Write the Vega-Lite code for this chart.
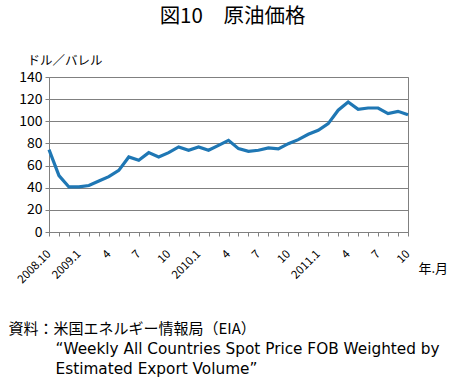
{
  "$schema": "https://vega.github.io/schema/vega-lite/v6.json",
  "width": 359,
  "height": 155,
  "autosize": "none",
  "padding": {"left": 49, "top": 77, "right": 47, "bottom": 150},
  "background": "white",
  "config": {
    "font": "Noto Sans CJK JP",
    "view": {"stroke": "#808080", "strokeWidth": 1},
    "axis": {"labelColor": "#000", "titleColor": "#000", "domainColor": "#808080", "tickColor": "#808080", "gridColor": "#808080", "titleFontWeight": "normal"}
  },
  "title": {
    "text": "図10　原油価格",
    "fontSize": 20.5,
    "fontWeight": "normal",
    "color": "#000",
    "anchor": "middle",
    "frame": "group",
    "dx": 4,
    "offset": 27
  },
  "data": {
    "values": [
      {"ym": "2008.10", "price": 74.4},
      {"ym": "2008.11", "price": 51},
      {"ym": "2008.12", "price": 40.7},
      {"ym": "2009.1", "price": 40.7},
      {"ym": "2009.2", "price": 42},
      {"ym": "2009.3", "price": 46},
      {"ym": "2009.4", "price": 50},
      {"ym": "2009.5", "price": 55.7},
      {"ym": "2009.6", "price": 67.8},
      {"ym": "2009.7", "price": 64.8},
      {"ym": "2009.8", "price": 71.7},
      {"ym": "2009.9", "price": 67.8},
      {"ym": "2009.10", "price": 71.7},
      {"ym": "2009.11", "price": 76.8},
      {"ym": "2009.12", "price": 73.8},
      {"ym": "2010.1", "price": 76.8},
      {"ym": "2010.2", "price": 73.8},
      {"ym": "2010.3", "price": 78.3},
      {"ym": "2010.4", "price": 82.8},
      {"ym": "2010.5", "price": 75.3},
      {"ym": "2010.6", "price": 72.9},
      {"ym": "2010.7", "price": 73.8},
      {"ym": "2010.8", "price": 75.9},
      {"ym": "2010.9", "price": 75},
      {"ym": "2010.10", "price": 79.8},
      {"ym": "2010.11", "price": 83.4},
      {"ym": "2010.12", "price": 88.3},
      {"ym": "2011.1", "price": 91.9},
      {"ym": "2011.2", "price": 97.9},
      {"ym": "2011.3", "price": 110},
      {"ym": "2011.4", "price": 117.5},
      {"ym": "2011.5", "price": 110.8},
      {"ym": "2011.6", "price": 112},
      {"ym": "2011.7", "price": 112},
      {"ym": "2011.8", "price": 106.9},
      {"ym": "2011.9", "price": 109},
      {"ym": "2011.10", "price": 106}
    ]
  },
  "layer": [
    {
      "mark": {"type": "line", "color": "#1f77b4", "strokeWidth": 3.2},
      "encoding": {
        "x": {
          "field": "ym",
          "type": "ordinal",
          "sort": null,
          "scale": {"type": "point", "padding": 0},
          "axis": {
            "title": "年.月",
            "titleFontSize": 13,
            "titleX": 369,
            "titleY": 36,
            "titleAlign": "left",
            "titleBaseline": "middle",
            "titleAngle": 0,
            "labelAngle": -45,
            "labelAlign": "right",
            "labelBaseline": "middle",
            "labelFontSize": 11.5,
            "labelPadding": 16,
            "labelOverlap": false,
            "tickSize": 4,
            "grid": false,
            "labelExpr": "datum.value == '2008.10' || split(datum.value, '.')[1] == '1' ? datum.value : (indexof(['4','7','10'], split(datum.value, '.')[1]) >= 0 ? split(datum.value, '.')[1] : '')"
          }
        },
        "y": {
          "field": "price",
          "type": "quantitative",
          "scale": {"domain": [0, 140], "nice": false},
          "axis": {
            "values": [0, 20, 40, 60, 80, 100, 120, 140],
            "title": "ドル／バレル",
            "titleFontSize": 12.5,
            "titleAngle": 0,
            "titleAlign": "left",
            "titleBaseline": "middle",
            "titleX": -22,
            "titleY": -17,
            "labelFontSize": 14,
            "labelPadding": 3,
            "tickSize": 4,
            "grid": true
          }
        }
      }
    },
    {
      "mark": {"type": "line", "opacity": 0},
      "encoding": {
        "x": {
          "field": "ym",
          "type": "ordinal",
          "sort": null,
          "scale": {"type": "point", "padding": 0},
          "axis": {
            "orient": "top",
            "domain": false,
            "ticks": false,
            "labels": false,
            "grid": false,
            "title": ["“Weekly All Countries Spot Price FOB Weighted by", "Estimated Export Volume”"],
            "titleFont": "DejaVu Sans",
            "titleFontSize": 15.3,
            "titleAngle": 0,
            "titleAlign": "left",
            "titleBaseline": "middle",
            "titleLineHeight": 20,
            "titleX": 6,
            "titleY": 271
          }
        },
        "y": {
          "field": "price",
          "type": "quantitative",
          "axis": {
            "orient": "right",
            "domain": false,
            "ticks": false,
            "labels": false,
            "grid": false,
            "title": "資料：米国エネルギー情報局（EIA）",
            "titleFontSize": 15,
            "titleAngle": 0,
            "titleAlign": "left",
            "titleBaseline": "middle",
            "titleX": -400,
            "titleY": 251
          }
        }
      }
    }
  ],
  "resolve": {"scale": {"y": "shared", "x": "shared"}, "axis": {"y": "independent", "x": "independent"}}
}
